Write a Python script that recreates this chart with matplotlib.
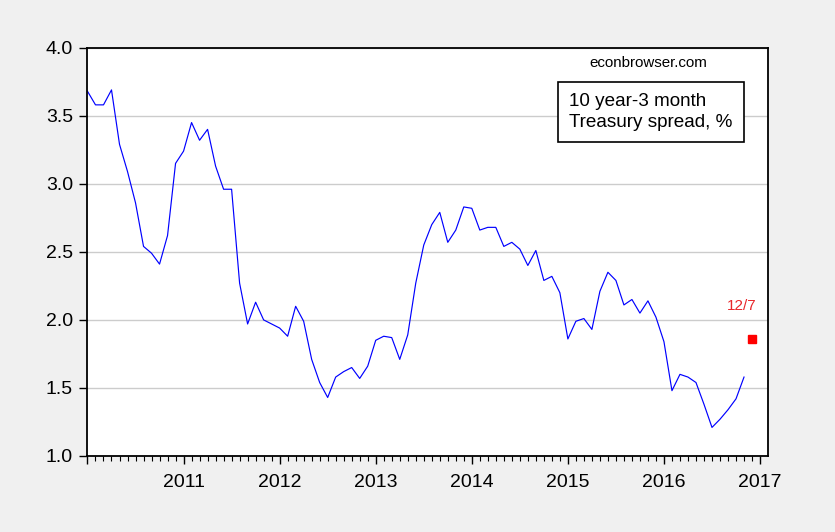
import matplotlib
matplotlib.use("Agg")
import matplotlib.pyplot as plt
from matplotlib.ticker import FixedLocator
import numpy as np

plt.rcParams['font.family'] = ['Liberation Sans', 'DejaVu Sans']

# Monthly 10 year - 3 month Treasury spread, Jan 2010 - Nov 2016
start_year = 2010
spread = [3.68, 3.58, 3.58, 3.69, 3.29, 3.09, 2.86, 2.54, 2.49, 2.41, 2.62, 3.15,
          3.24, 3.45, 3.32, 3.40, 3.13, 2.96, 2.96, 2.27, 1.97, 2.13, 2.00, 1.97,
          1.94, 1.88, 2.10, 1.99, 1.71, 1.54, 1.43, 1.58, 1.62, 1.65, 1.57, 1.66,
          1.85, 1.88, 1.87, 1.71, 1.89, 2.27, 2.55, 2.70, 2.79, 2.57, 2.66, 2.83,
          2.82, 2.66, 2.68, 2.68, 2.54, 2.57, 2.52, 2.40, 2.51, 2.29, 2.32, 2.20,
          1.86, 1.99, 2.01, 1.93, 2.21, 2.35, 2.29, 2.11, 2.15, 2.05, 2.14, 2.02,
          1.84, 1.48, 1.60, 1.58, 1.54, 1.38, 1.21, 1.27, 1.34, 1.42, 1.58]
# Daily point for 12/7 (2016)
point_month_index = 83
point_value = 1.86
point_label = "12/7"
point_label_y = 2.10

year_labels = ["", "2011", "2012", "2013", "2014", "2015", "2016", "2017"]
year_ticks = [2010, 2011, 2012, 2013, 2014, 2015, 2016, 2017]
y_ticks = [1.0, 1.5, 2.0, 2.5, 3.0, 3.5, 4.0]

x = start_year + np.arange(len(spread)) / 12.0
px = start_year + point_month_index / 12.0

fig = plt.figure(figsize=(8.35, 5.32), dpi=100, facecolor='#f0f0f0')
L, R, T, B = 87, 768, 47.7, 456
ax = fig.add_axes([L/835, 1 - B/532, (R-L)/835, (B-T)/532])
ax.set_facecolor('white')

ax.plot(x, spread, color='#0000ff', lw=0.85)
ax.plot([px], [point_value], marker='s', color='#ff0000', ms=5.2, ls='none')
ax.annotate(point_label, xy=(px, point_label_y), xytext=(-7.5, 0),
            textcoords='offset points', color='#e8262a', fontsize=11,
            ha='center', va='center')

ax.set_xlim(2010 - 0.005, 2017 + 0.083)
ax.set_ylim(1.0, 4.0)
ax.set_yticks(y_ticks)
ax.set_yticklabels([f"{v:.1f}" for v in y_ticks])
ax.set_xticks(year_ticks)
ax.set_xticklabels(year_labels)
ax.xaxis.set_minor_locator(FixedLocator(start_year + np.arange(0, 86) / 12.0))

ax.grid(axis='y', color='#cccccc', lw=1.0)
ax.set_axisbelow(True)

for s in ax.spines.values():
    s.set_color('black')
    s.set_linewidth(1.3)

ax.tick_params(axis='y', direction='out', length=6, width=1.0, labelsize=14, pad=4)
ax.tick_params(axis='x', which='major', direction='out', length=6, width=1.0,
               labelsize=14, pad=7)
ax.tick_params(axis='x', which='minor', direction='out', length=3.6, width=0.8)

ax.text((648-L)/(R-L), (B-63)/(B-T), "econbrowser.com",
        transform=ax.transAxes, fontsize=10.9, ha='center', va='center')

ax.text((569-L)/(R-L), (B-112)/(B-T), "10 year-3 month\nTreasury spread, %",
        transform=ax.transAxes, fontsize=13.6, ha='left', va='center',
        linespacing=1.3,
        bbox=dict(boxstyle='square,pad=0.6', facecolor='white', edgecolor='black', lw=1.2))

fig.savefig("out.png", dpi=100, facecolor=fig.get_facecolor())
